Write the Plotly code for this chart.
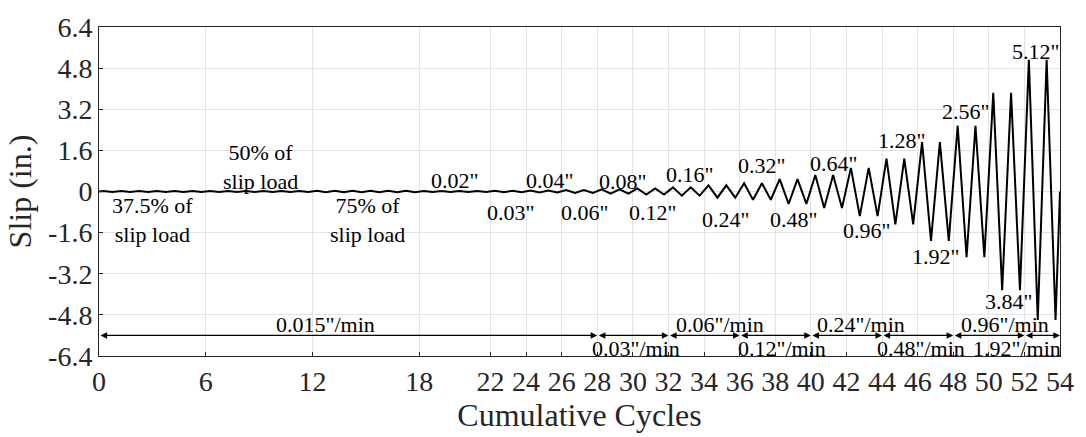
import plotly.graph_objects as go

# ---- loading protocol ----
stage_cycles = [6, 6, 6, 4, 2, 2, 2, 2, 2, 2, 2, 2, 2, 2, 2, 2, 2, 2, 2, 2]
stage_pos_peak = [0.02, 0.02, 0.03, 0.02, 0.03, 0.04, 0.06, 0.08, 0.12, 0.16, 0.24,
                  0.32, 0.48, 0.64, 0.92, 1.28, 1.92, 2.56, 3.84, 5.12]
stage_neg_peak = [-0.02, -0.02, -0.03, -0.02, -0.03, -0.04, -0.06, -0.08, -0.12, -0.16, -0.24,
                  -0.32, -0.48, -0.64, -0.96, -1.28, -1.92, -2.56, -3.84, -5.0]

# amplitude labels
amp_text = ['37.5% of<br>slip load', '50% of<br>slip load', '75% of<br>slip load',
            '0.02"', '0.03"', '0.04"', '0.06"', '0.08"', '0.12"', '0.16"', '0.24"',
            '0.32"', '0.48"', '0.64"', '0.96"', '1.28"', '1.92"', '2.56"', '3.84"', '5.12"']
amp_x = [3, 9.1, 15.1, 20.0, 23.1, 25.3, 27.3, 29.4, 31.1, 33.2, 35.2,
         37.2, 39.0, 41.3, 43.1, 45.1, 47.0, 48.7, 51.1, 52.6]
amp_y = [-1.1, 0.97, -1.1, 0.41, -0.82, 0.41, -0.82, 0.38, -0.82, 0.66, -1.07,
         1.0, -1.07, 1.09, -1.51, 2.0, -2.51, 3.1, -4.27, 5.46]

# loading-rate segments
rate_start = [0, 28, 32, 36, 40, 44, 48, 52]
rate_end = [28, 32, 36, 40, 44, 48, 52, 54]
rate_text = ['0.015"/min', '0.03"/min', '0.06"/min', '0.12"/min',
             '0.24"/min', '0.48"/min', '0.96"/min', '1.92"/min']
rate_label_x = [12.7, 30.2, 34.9, 38.4, 42.8, 46.2, 50.9, 51.6]
rate_label_y = [-5.17, -6.1, -5.17, -6.1, -5.17, -6.1, -5.17, -6.1]
rate_arrow_y = -5.6

x_ticks = [0, 6, 12, 18, 22, 24, 26, 28, 30, 32, 34, 36, 38, 40, 42, 44, 46, 48, 50, 52, 54]
y_ticks = [-6.4, -4.8, -3.2, -1.6, 0, 1.6, 3.2, 4.8, 6.4]
y_tick_text = ['-6.4', '-4.8', '-3.2', '-1.6', '0', '1.6', '3.2', '4.8', '6.4']

# ---- build the cyclic history ----
xs, ys = [0.0], [0.0]
c = 0
for n, pp, nn in zip(stage_cycles, stage_pos_peak, stage_neg_peak):
    for k in range(n):
        xs += [c + 0.25, c + 0.75]
        ys += [pp, nn]
        c += 1
xs.append(float(c))
ys.append(0.0)

FONT = 'Liberation Serif'
fig = go.Figure()
fig.add_trace(go.Scatter(x=xs, y=ys, mode='lines',
                         line=dict(color='black', width=2), showlegend=False))

ann = []
for t, x, y in zip(amp_text, amp_x, amp_y):
    ann.append(dict(x=x, y=y, text=t, showarrow=False, xref='x', yref='y',
                    font=dict(family=FONT, size=22, color='black')))
for s, e in zip(rate_start, rate_end):
    ann.append(dict(x=e, y=rate_arrow_y, ax=s, ay=rate_arrow_y, xref='x', yref='y',
                    axref='x', ayref='y', text='', showarrow=True,
                    arrowhead=2, arrowside='end+start', arrowsize=1.1,
                    arrowwidth=1.2, arrowcolor='black'))
for t, x, y in zip(rate_text, rate_label_x, rate_label_y):
    ann.append(dict(x=x, y=y, text=t, showarrow=False, xref='x', yref='y',
                    font=dict(family=FONT, size=22, color='black')))

fig.update_layout(
    width=1086, height=437,
    margin=dict(l=99, r=17, t=18, b=78),
    plot_bgcolor='white', paper_bgcolor='white',
    font=dict(family=FONT, color='#262626'),
    annotations=ann,
    xaxis=dict(range=[0, 54], tickvals=x_ticks, ticktext=[str(v) for v in x_ticks],
               showgrid=True, gridcolor='#e3e3e3', gridwidth=1,
               zeroline=False, showline=True, linecolor='#262626', linewidth=1,
               mirror=True, ticks='inside', ticklen=4, tickcolor='#262626',
               tickfont=dict(family=FONT, size=28, color='#262626'),
               title=dict(text='Cumulative Cycles', standoff=6,
                          font=dict(family=FONT, size=32, color='#262626'))),
    yaxis=dict(range=[-6.4, 6.4], tickvals=y_ticks, ticktext=y_tick_text,
               showgrid=True, gridcolor='#e3e3e3', gridwidth=1,
               zeroline=False, showline=True, linecolor='#262626', linewidth=1,
               mirror=True, ticks='inside', ticklen=4, tickcolor='#262626',
               tickfont=dict(family=FONT, size=28, color='#262626'),
               title=dict(text='Slip (in.)', standoff=6,
                          font=dict(family=FONT, size=32, color='#262626'))),
)
fig.write_html('out.html')
